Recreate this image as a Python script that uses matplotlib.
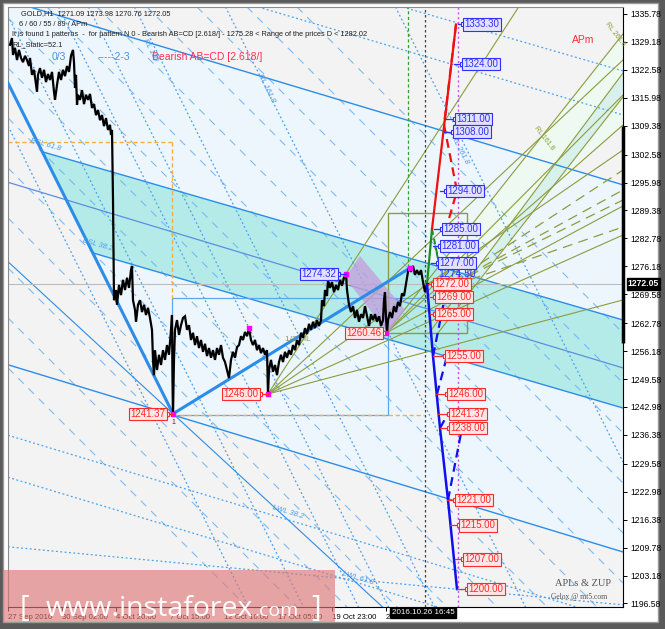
import matplotlib
matplotlib.use("Agg")
import matplotlib.pyplot as plt
from matplotlib.patches import Polygon, Rectangle
import matplotlib.transforms as mtransforms

plt.rcParams['font.family'] = ['Liberation Sans', 'DejaVu Sans']

# ---------------- data ----------------
hourly_path = [
    (2, 1328.5), (4, 1330.1), (5, 1326.1), (7, 1327.8), (9, 1324.9), (11, 1327.3), (13, 1325.4),
    (15, 1324.4), (17, 1325.9), (19, 1324.9), (21, 1323.5), (22, 1325.4), (24, 1321.4), (26, 1322.6),
    (28, 1319.0), (29, 1317.4), (30, 1321.4), (32, 1323.0), (34, 1320.7), (36, 1322.6), (38, 1319.7),
    (40, 1321.6), (42, 1320.2), (44, 1322.1), (46, 1317.4), (47, 1315.5), (49, 1319.0), (51, 1322.1),
    (53, 1320.2), (55, 1322.6), (57, 1321.1), (59, 1323.5), (61, 1322.1), (63, 1325.9), (65, 1327.3),
    (66, 1324.4), (67, 1318.3), (68, 1321.4), (69, 1314.3), (70, 1316.7), (72, 1315.5), (74, 1317.8),
    (76, 1314.5), (78, 1316.7), (80, 1315.5), (82, 1316.9), (84, 1313.6), (86, 1314.5), (88, 1311.9),
    (90, 1313.1), (92, 1310.7), (94, 1311.9), (96, 1309.3), (98, 1311.2), (100, 1308.4), (102, 1309.6),
    (103, 1307.2), (104, 1308.4), (105, 1291.9), (105.5, 1280.1), (106, 1268.2), (108, 1270.6),
    (109, 1267.1), (111, 1271.8), (113, 1269.4), (115, 1273.0), (117, 1270.6), (119, 1273.5),
    (121, 1271.1), (123, 1275.3), (124, 1276.3), (125, 1268.2), (127, 1265.9), (128, 1263.1),
    (130, 1267.1), (132, 1268.2), (134, 1265.4), (136, 1267.1), (138, 1264.7), (140, 1266.4),
    (142, 1264.0), (144, 1261.2), (145, 1254.1), (146, 1250.5), (147, 1256.4), (149, 1251.7),
    (151, 1255.3), (153, 1252.9), (155, 1256.4), (157, 1254.1), (159, 1257.6), (161, 1255.3),
    (163, 1261.2), (164, 1264.7), (164.5, 1249.4), (165, 1241.4), (166, 1254.1), (167, 1261.2),
    (169, 1263.5), (171, 1260.0), (173, 1262.3), (175, 1264.0), (177, 1264.4), (179, 1261.2),
    (181, 1262.3), (183, 1258.8), (185, 1260.5), (187, 1257.6), (189, 1259.7), (191, 1256.9),
    (193, 1258.8), (195, 1256.0), (197, 1257.9), (199, 1255.0), (201, 1256.9), (203, 1254.6),
    (205, 1256.4), (207, 1254.1), (209, 1256.9), (211, 1255.3), (213, 1257.6), (215, 1254.6),
    (217, 1253.6), (219, 1251.7), (221, 1249.8), (223, 1254.1), (225, 1256.0), (227, 1254.6),
    (229, 1257.1), (231, 1257.6), (233, 1259.7), (235, 1258.8), (237, 1260.7), (239, 1259.7),
    (241, 1261.6), (243, 1258.8), (245, 1257.6), (247, 1258.8), (249, 1256.4), (251, 1257.6),
    (253, 1255.7), (255, 1256.9), (257, 1255.3), (259, 1256.4), (260, 1246.0), (261, 1251.7),
    (263, 1254.1), (265, 1251.3), (267, 1252.9), (269, 1250.5), (271, 1253.6), (273, 1255.3),
    (275, 1253.6), (277, 1256.0), (279, 1254.6), (281, 1256.4), (283, 1255.3), (285, 1257.6),
    (287, 1256.4), (289, 1258.8), (291, 1257.6), (293, 1260.5), (295, 1259.3), (297, 1261.6),
    (299, 1260.2), (301, 1262.6), (303, 1261.2), (305, 1263.1), (307, 1261.6), (309, 1263.5),
    (311, 1262.1), (313, 1263.5), (314, 1268.2), (316, 1266.8), (317, 1270.6), (319, 1269.2),
    (320, 1273.0), (322, 1271.1), (324, 1272.5), (326, 1270.1), (328, 1271.8), (330, 1270.6),
    (332, 1273.0), (334, 1271.6), (336, 1273.5), (338, 1274.4), (339, 1270.6), (341, 1267.1),
    (343, 1265.4), (345, 1266.8), (347, 1264.0), (349, 1265.9), (351, 1263.1), (353, 1264.9),
    (355, 1264.0), (357, 1266.8), (359, 1264.4), (361, 1262.1), (363, 1264.9), (365, 1263.5),
    (367, 1264.9), (369, 1263.1), (371, 1264.4), (373, 1262.1), (375, 1263.5), (376, 1268.2),
    (377, 1270.1), (378, 1264.0), (379, 1260.5), (380, 1263.5), (382, 1265.4), (384, 1264.0),
    (386, 1266.8), (388, 1265.4), (390, 1267.8), (392, 1266.8), (394, 1269.8), (396, 1269.2),
    (398, 1272.0), (400, 1274.9), (401, 1276.0), (403, 1274.9), (405, 1276.3), (407, 1274.2),
    (409, 1275.3), (411, 1274.2), (413, 1275.3), (415, 1272.5), (417, 1270.1), (419, 1271.6),
    (420, 1272.0),
]
bar_idx = [p[0] for p in hourly_path]
close = [p[1] for p in hourly_path]

last_price = 1272.05
ytick_values = [1335.78, 1329.18, 1322.58, 1315.98, 1309.38, 1302.58, 1295.98, 1289.38, 1282.78,
                1276.18, 1269.58, 1262.78, 1256.18, 1249.58, 1242.98, 1236.38, 1229.58, 1222.98,
                1216.38, 1209.78, 1203.18, 1196.58]
xtick_bars = [0, 54, 108, 162, 216, 270, 324, 378]
xtick_labels = ["27 Sep 2016", "30 Sep 02:00", "4 Oct 20:00", "7 Oct 15:00", "12 Oct 10:00",
                "17 Oct 05:00", "19 Oct 23:00", "2"]

# pattern pivots (bar, price)
pivot_x = [165, 260, 338, 378, 241, 402]
pivot_y = [1241.37, 1246.00, 1274.32, 1260.46, 1261.6, 1275.8]

# projection levels
bull_levels = [1333.30, 1324.00, 1311.00, 1308.00, 1294.00, 1285.00, 1281.00, 1277.00]
bear_levels = [1272.00, 1269.00, 1265.00, 1255.00, 1246.00, 1241.37, 1238.00, 1221.00,
               1215.00, 1207.00, 1200.00]
bull_path_x = [424, 448]
bull_path_y = [1285.0, 1333.3]
bull_retr_x = [448, 436, 449, 438]
bull_retr_y = [1333.3, 1309.6, 1294.0, 1285.0]
bear_path_x = [419, 425, 432, 440, 449]
bear_path_y = [1272.0, 1255.0, 1238.0, 1221.0, 1200.0]
bear_retr = [((425, 1255.0), (437, 1269.0)), ((429, 1246.0), (439, 1255.0)),
             ((432, 1238.0), (440, 1241.37)), ((440, 1221.0), (454, 1238.0))]
green_x = [419, 424]
green_y = [1272.0, 1285.0]
green_retr_x = [424, 431, 427]
green_retr_y = [1285.0, 1277.0, 1281.0]

# ---------------- layout (positions / styles) ----------------
W, H = 665, 629
bull_box_x = [455, 454, 447, 445, 438, 434, 432, 430]
bull_conn_x = [450, 446, 437, 436, 432, 426, 425, 423]
bear_box_x = [425, 427, 427, 437, 439, 441, 441, 447, 451, 455, 459]
bear_conn_x = [420, 422, 422, 425, 428, 430, 432, 439, 442, 447, 449]

BLUE = '#2b8de8'
DOT = '#4aa0f0'
DASH = '#6ab2f2'
OLIVE = '#8c9c3c'
RED = '#ff2a2a'
LBLUE = '#3030ff'

fig = plt.figure(figsize=(W / 100, H / 100), dpi=100)
fig.patch.set_facecolor('#5a5a5a')
fig.patches.append(Rectangle((3 / W, 1 - 622 / H), 655 / W, 619 / H, transform=fig.transFigure,
                             facecolor='white', edgecolor='#9a9a9a', lw=1.0, zorder=-5))

ax = fig.add_axes([8 / W, 1 - 607 / H, 615 / W, 600 / H])
ax.set_facecolor('#f3f3f3')
ax.set_xlim(0, 615)
ax.set_ylim(1195.75, 1337.43)

# light blue pitchfork interior
ax.add_patch(Polygon([(0, 1338.99), (615, 1295.43), (615, 1208.73), (165, 1241.09), (0, 1319.49)],
                     closed=True, facecolor='#eef6fd', edgecolor='none', zorder=0))
# mint wedge / stripe
ax.add_patch(Polygon([(378, 1260.46), (615, 1331.06), (615, 1309.57)], closed=True,
                     facecolor='#eef9f2', edgecolor='none', zorder=0.5))
ax.add_patch(Polygon([(421, 1260.46), (615, 1321.85), (615, 1316.18), (430, 1260.46)], closed=True,
                     facecolor='#d9f1ec', edgecolor='none', zorder=0.6))
# teal band
ax.add_patch(Polygon([(35, 1303.20), (615, 1263.52), (615, 1242.74), (85, 1279.35)], closed=True,
                     facecolor='#b4ebe8', edgecolor='none', zorder=0.7))

# steep dotted lines
for b in [87, 142, 197, 227, 273, 364, 534]:
    ax.axline((b, 1268.25), slope=-0.4723, color=DOT, lw=0.9, ls=(0, (1.5, 2)), zorder=1)
# long-dash lines
for b in [-68, -18, 32, 82, 132, 182, 232, 282, 332, 382, 432, 482, 532, 582]:
    ax.axline((b, 1268.25), slope=-0.2361, color=DASH, lw=0.8, ls=(0, (7, 6)), alpha=0.85, zorder=1)
# near horizontal dotted
ax.axline((405, 1336.72), (622, 1321.85), color=DOT, lw=0.9, ls=(0, (1.5, 2)), zorder=1)
ax.axline((372, 1328.93), (622, 1311.46), color=DOT, lw=0.9, ls=(0, (1.5, 2)), zorder=1)
ax.axline((-1, 1236.37), slope=-0.0713, color=DOT, lw=0.9, ls=(0, (1.5, 2)), zorder=1)
ax.axline((-1, 1226.45), slope=-0.0713, color=DOT, lw=0.9, ls=(0, (1.5, 2)), zorder=1)
ax.axline((2, 1209.92), (319, 1202.85), color=DOT, lw=0.9, ls=(0, (1.5, 2)), zorder=1)

# solid pitchfork lines
ax.axline((142, 1328.93), (622, 1294.93), color=BLUE, lw=1.0, zorder=2)
ax.plot([35, 615], [1303.20, 1263.52], color=BLUE, lw=1.0, zorder=2)
ax.plot([85, 615], [1279.35, 1242.74], color=BLUE, lw=1.0, zorder=2)
ax.axline((-1, 1296.11), (615, 1252.20), color='#5a8fe0', lw=0.9, zorder=2)
ax.axline((165, 1241.09), (615, 1208.74), color=BLUE, lw=1.0, zorder=2)
ax.axline((165, 1241.37), slope=-0.2177, color=BLUE, lw=0.8, zorder=2)
ax.plot([0, 165], [1319.49, 1241.37], color=BLUE, lw=2.2, zorder=3)
ax.plot([165, 402], [1241.37, 1275.8], color=BLUE, lw=2.2, zorder=3)

# rectangle and orange guides
ax.add_patch(Rectangle((164, 1241.09), 216, 27.63, facecolor='none', edgecolor='#58a8f0', lw=0.9, zorder=2))
ax.plot([380, 419], [1268.72, 1268.72], color='#58a8f0', lw=0.9, zorder=2)
ax.plot([0, 164], [1305.56, 1305.56], color='#f5b040', lw=1.0, ls=(0, (3, 2)), zorder=2)
ax.plot([164, 164], [1305.56, 1268.72], color='#f5b040', lw=1.0, ls=(0, (3, 2)), zorder=2)
ax.plot([165, 416], [1241.09, 1241.09], color='#f5b040', lw=1.0, ls=(0, (3, 2)), zorder=2)

ax.axhline(last_price, color='#bcbcbc', lw=0.8, zorder=2)

# olive fans
for ex, ey in [(510, 1337.20), (615, 1324.92), (615, 1303.67), (615, 1283.60), (615, 1268.25)]:
    ax.plot([260, ex], [1246.05, ey], color=OLIVE, lw=0.8, zorder=2)
for ex, ey in [(615, 1331.06), (615, 1316.65), (615, 1309.57), (615, 1290.44)]:
    ax.plot([378, ex], [1260.46, ey], color=OLIVE, lw=0.8, zorder=2)
ax.plot([421, 615], [1260.46, 1321.85], color=OLIVE, lw=0.8, zorder=2)
ax.plot([430, 615], [1260.46, 1316.18], color=OLIVE, lw=0.8, zorder=2)
for ey in [1298.94, 1294.22, 1291.86, 1285.49]:
    ax.plot([432, 615], [1270.61, ey], color=OLIVE, lw=0.9, ls=(0, (8, 5)), zorder=2)
ax.add_patch(Rectangle((380, 1260.46), 79, 28.33, facecolor='none', edgecolor=OLIVE, lw=1.0, zorder=2))
ax.add_patch(Polygon([(337, 1273.44), (352, 1278.64), (397, 1265.89), (380, 1260.46)], closed=True,
                     facecolor='#c39ddb', edgecolor='none', alpha=0.75, zorder=2.5))

# vertical markers
ax.axvline(417, color='#404040', lw=0.9, ls=(0, (2, 2)), zorder=2)
ax.plot([400, 400], [1276.03, 1337.43], color='#30a030', lw=0.9, ls=(0, (2.5, 2)), zorder=2)
ax.axvline(450, color='#c050e8', lw=1.0, ls=(0, (1.5, 2)), zorder=2)

# price series
ax.plot(bar_idx, close, color='black', lw=1.6, zorder=4, solid_joinstyle='miter')

# projections
ax.plot(green_x, green_y, color='#1e8c1e', lw=1.6, zorder=5)
ax.plot(green_retr_x, green_retr_y, color='#1e8c1e', lw=1.4, ls=(0, (3, 2)), zorder=5)
ax.plot(bull_path_x, bull_path_y, color='#ee1111', lw=1.6, zorder=5)
ax.plot(bull_retr_x, bull_retr_y, color='#ee1111', lw=1.6, ls=(0, (4, 2.5)), zorder=5)
ax.plot(bear_path_x, bear_path_y, color='#1010ee', lw=1.8, zorder=5)
for (p0, p1) in bear_retr:
    ax.plot([p0[0], p1[0]], [p0[1], p1[1]], color='#1010ee', lw=1.6, ls=(0, (4, 2.5)), zorder=5)

ax.scatter(pivot_x, pivot_y, s=5, marker='s', color='#ff00ff', zorder=6)


def level_label(cx, bx, price, col, fc, ha='left'):
    ax.plot([cx, bx], [price, price], color=col, lw=0.9, zorder=6)
    ax.plot([bx], [price], marker='s', ms=2.5, mfc='white', mec=col, mew=0.8, zorder=7)
    off = 1.5 if ha == 'left' else -1.5
    ax.text(bx + off, price, f'{price:.2f}', color=col, fontsize=7, va='center', ha=ha, zorder=8,
            bbox=dict(boxstyle='square,pad=0.12', fc=fc, ec=col, lw=0.8))


for lv, bx, cx in zip(bull_levels, bull_box_x, bull_conn_x):
    level_label(cx, bx, lv, LBLUE, '#e2e2ff')
for lv, bx, cx in zip(bear_levels, bear_box_x, bear_conn_x):
    level_label(cx, bx, lv, RED, '#ffe6e6')
ax.text(430, 1274.5, '1274.50', color=LBLUE, fontsize=7.5, va='center', ha='left', zorder=8)
level_label(165, 159, 1241.37, RED, '#ffe6e6', ha='right')
level_label(260, 252, 1246.00, RED, '#ffe6e6', ha='right')
level_label(378, 375, 1260.46, RED, '#ffe6e6', ha='right')
level_label(338, 330, 1274.32, LBLUE, '#e2e2ff', ha='right')
ax.text(165, 1239.3, '1', fontsize=5, ha='center', va='center', color='#333333', zorder=8)

# rotated line labels
lab = dict(fontsize=5.5, color='#4a9ae8', style='italic', ha='center', va='center', zorder=3)
ax.text(37, 1304.85, 'BSL 61.8', rotation=-16, **lab)
ax.text(89, 1281.23, 'BSL 38.2', rotation=-16, **lab)
ax.text(280, 1218.19, 'LWL 38.2', rotation=-17, **lab)
ax.text(350, 1202.6, 'LWL 61.8', rotation=-17, **lab)
ax.text(142, 1327.28, 'RL 100', rotation=-62, **lab)
ax.text(258, 1318.3, 'RL 161.8', rotation=-64, **lab)
ax.text(452, 1303.67, 'RL 261.8', rotation=-62, **lab)
ax.text(290, 1258.8, '1/2 ML', fontsize=6, color='#8a9a5a', ha='center', va='center', zorder=3)
ax.text(536, 1306.5, 'RL 161.8', rotation=-52, fontsize=5, color=OLIVE, ha='center', va='center', zorder=3)
ax.text(607, 1331.0, 'RL 261.8', rotation=-52, fontsize=5, color=OLIVE, ha='center', va='center', zorder=3)

# axes styling
for s in ['left', 'top']:
    ax.spines[s].set_color('#8a8a8a')
    ax.spines[s].set_linewidth(0.8)
for s in ['right', 'bottom']:
    ax.spines[s].set_color('black')
    ax.spines[s].set_linewidth(0.8)
ax.yaxis.tick_right()
ax.set_yticks(ytick_values)
ax.set_yticklabels([f'{v:.2f}' for v in ytick_values], fontsize=6.2)
ax.set_xticks(xtick_bars)
ax.set_xticklabels(xtick_labels, fontsize=5.6)
for lbl in ax.get_xticklabels():
    lbl.set_horizontalalignment('left')
ax.tick_params(axis='both', length=3, width=0.7, pad=2, colors='black')

# thick marker bar on the price scale and current price box
ax.plot([615, 615], [1309.4, 1258.2], color='black', lw=2.5, zorder=9, clip_on=False,
        solid_capstyle='butt')
trans = mtransforms.blended_transform_factory(ax.transAxes, ax.transData)
ax.text(1.008, last_price, f'{last_price:.2f}', transform=trans, fontsize=6.2, color='white',
        fontweight='bold', va='center', ha='left', zorder=10,
        bbox=dict(boxstyle='square,pad=0.15', fc='black', ec='black'))

# header texts
def ftext(x, y, s, **kw):
    return fig.text(x / W, 1 - y / H, s, **kw)

small = dict(fontsize=5.3, color='#202020', va='center', ha='left')
ftext(21, 14, 'GOLD,H1  1271.09 1273.98 1270.76 1272.05', **small)
ftext(19, 25, '6 / 60 / 55 / 89 / APm', **small)
ftext(12, 35, 'It is found 1 patterns  -  for pattern N 0 - Bearish AB=CD [2.618/] - 1275.28 < '
              'Range of the prices D < 1282.02', **small)
ftext(12, 45, 'RL_Static=52.1', **small)
ftext(52, 57, '0/3', fontsize=7.5, color='#4a90e8', va='center', ha='left')
ftext(98, 57, '-----2-3', fontsize=7.5, color='#4a90e8', va='center', ha='left')
ftext(152, 57, 'Bearish AB=CD [2.618/]', fontsize=7.5, color='#ff3050', va='center', ha='left')
ftext(572, 40, 'APm', fontsize=7.5, color='#ff3030', va='center', ha='left')
ftext(555, 583, 'APLs & ZUP', fontsize=7.5, color='#555555', family='Liberation Serif',
      va='center', ha='left')
ftext(551, 597, 'Gelox @ mt5.com', fontsize=5.5, color='#555555', family='Liberation Serif',
      va='center', ha='left')

# time box
ftext(423, 613, '2016.10.26 16:45', fontsize=5.8, color='white', va='center', ha='center', zorder=12,
      bbox=dict(boxstyle='square,pad=0.2', fc='black', ec='black'))

# watermark
fig.patches.append(Rectangle((4 / W, 1 - 622 / H), 331 / W, 52 / H, transform=fig.transFigure,
                             facecolor='#e07878', edgecolor='none', alpha=0.65, zorder=11))
wm = dict(color='white', va='baseline', ha='left', family='Open Sans', zorder=12)
ftext(20, 616, '[', fontsize=21, **wm)
t_main = ftext(46, 616, 'www.instaforex', fontsize=20.5, **wm)
fig.canvas.draw()
ext = t_main.get_window_extent()
ftext(ext.x1 + 1, 616, '.com', fontsize=14, **wm)
ftext(311, 616, ']', fontsize=21, **wm)

fig.savefig('out.png', dpi=100, facecolor=fig.get_facecolor())
